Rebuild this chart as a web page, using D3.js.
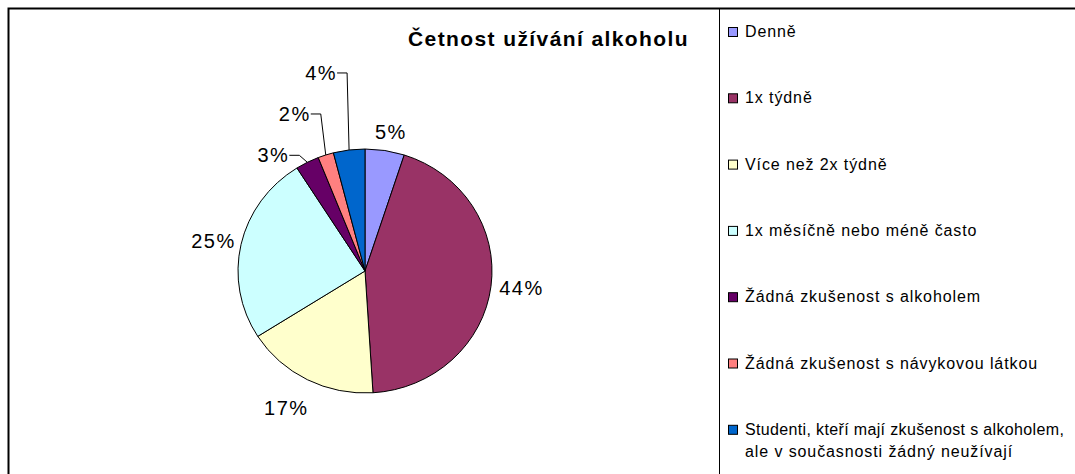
<!DOCTYPE html>
<html>
<head>
<meta charset="utf-8">
<script src="https://cdn.jsdelivr.net/npm/d3@7"></script>
<style>
  html, body { margin: 0; padding: 0; background: #fff; }
  svg { display: block; }
  text { font-family: "Liberation Sans", Arial, sans-serif; fill: #000; }
</style>
</head>
<body>
<svg id="chart" width="1075" height="474"></svg>
<script>
// ---- data ----
const title = "Četnost užívání alkoholu";
const categories = [
  "Denně",
  "1x týdně",
  "Více než 2x týdně",
  "1x měsíčně nebo méně často",
  "Žádná zkušenost s alkoholem",
  "Žádná zkušenost s návykovou látkou",
  "Studenti, kteří mají zkušenost s alkoholem, ale v současnosti žádný neužívají"
];
const legendLines = [
  ["Denně"],
  ["1x týdně"],
  ["Více než 2x týdně"],
  ["1x měsíčně nebo méně často"],
  ["Žádná zkušenost s alkoholem"],
  ["Žádná zkušenost s návykovou látkou"],
  ["Studenti, kteří mají zkušenost s alkoholem,", "ale v současnosti žádný neužívají"]
];
const values = [5, 44, 17, 25, 3, 2, 4];
const percentLabels = ["5%", "44%", "17%", "25%", "3%", "2%", "4%"];

// ---- styles / layout ----
const colors = ["#9999FF", "#993366", "#FFFFCC", "#CCFFFF", "#660066", "#FF8080", "#0066CC"];
const labelGap = [12, 8, 26, 7, null, null, null];          // gap between pie and inside labels
const leaderOffset = [null, null, null, null, [-8, -7], [-5, -41], [-2, -77]]; // leader elbows

const svg = d3.select("#chart");
const W = 1075, H = 474;
svg.append("rect").attr("width", W).attr("height", H).attr("fill", "#fff");

// frame
svg.append("path")
  .attr("d", `M8.5,${H} V8.5 H${W}`)
  .attr("fill", "none").attr("stroke", "#000").attr("stroke-width", 2);
svg.append("line")
  .attr("x1", 719.5).attr("x2", 719.5).attr("y1", 9).attr("y2", H)
  .attr("stroke", "#000").attr("stroke-width", 1);

// title
svg.append("text")
  .attr("x", 408).attr("y", 46)
  .attr("font-size", 21).attr("font-weight", "bold")
  .attr("letter-spacing", 1.4)
  .text(title);

// pie
const cx = 365, cy = 271, rx = 127, ry = 122;
const sy = ry / rx;
const pie = d3.pie().sort(null).value(d => d)(values);
const arc = d3.arc().innerRadius(0).outerRadius(rx);

const g = svg.append("g").attr("transform", `translate(${cx},${cy})`);
const slices = g.append("g").attr("transform", `scale(1,${sy})`);
slices.selectAll("path")
  .data(pie)
  .join("path")
  .attr("d", arc)
  .attr("fill", (d, i) => colors[i])
  .attr("stroke", "#000")
  .attr("stroke-width", 1)
  .attr("vector-effect", "non-scaling-stroke");

function pt(angle, r) {
  return [Math.sin(angle) * r, -Math.cos(angle) * r * sy];
}

const labelFont = 20, labelLS = 1.5;
pie.forEach((d, i) => {
  const a = (d.startAngle + d.endAngle) / 2;
  if (leaderOffset[i] == null) {
    const w = 44, h = 14;
    const p = pt(a, rx + labelGap[i]);
    const x = p[0] + Math.sin(a) * w / 2;
    const y = p[1] - Math.cos(a) * h / 2;
    g.append("text")
      .attr("x", x + labelLS / 2).attr("y", y + h / 2)
      .attr("text-anchor", "middle")
      .attr("font-size", labelFont)
      .attr("letter-spacing", labelLS)
      .text(percentLabels[i]);
  } else {
    const p0 = pt(a, rx);
    const p1 = [p0[0] + leaderOffset[i][0], p0[1] + leaderOffset[i][1]];
    const p2 = [p1[0] - 10, p1[1]];
    g.append("path")
      .attr("d", d3.line()([p0, p1, p2]))
      .attr("fill", "none").attr("stroke", "#000").attr("stroke-width", 1);
    g.append("text")
      .attr("x", p2[0]).attr("y", p2[1] + 7)
      .attr("text-anchor", "end")
      .attr("font-size", labelFont)
      .attr("letter-spacing", labelLS)
      .text(percentLabels[i]);
  }
});

// legend
const legendY = d3.scalePoint().domain(d3.range(categories.length)).range([37, 434.8]);
const lg = svg.append("g");
categories.forEach((c, i) => {
  const y = legendY(i);
  lg.append("rect")
    .attr("x", 728.5).attr("y", y - 9.5).attr("width", 9).attr("height", 9)
    .attr("fill", colors[i]).attr("stroke", "#000").attr("stroke-width", 1);
  const t = lg.append("text")
    .attr("x", 745).attr("y", y)
    .attr("font-size", 16)
    .attr("letter-spacing", 0.9);
  legendLines[i].forEach((line, j) => {
    const ts = t.append("tspan").attr("x", 745).attr("y", y + j * 22.5).text(line);
    if (line.length > 40) ts.attr("letter-spacing", 0.35);
  });
});
</script>
</body>
</html>
